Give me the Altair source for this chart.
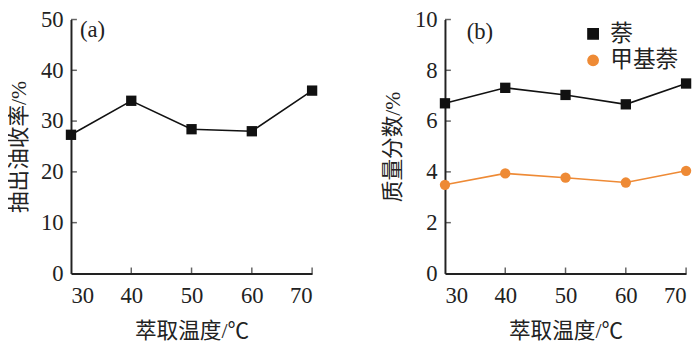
import altair as alt
import pandas as pd

temps = [30, 40, 50, 60, 70]
oil_yield = [27.3, 34.0, 28.4, 28.0, 36.0]
naph = [6.70, 7.31, 7.03, 6.66, 7.48]
methylnaph = [3.49, 3.94, 3.77, 3.58, 4.04]
series_names = ["萘", "甲基萘"]
ticks_a = [10, 20, 30, 40, 50]
ticks_b = [2, 4, 6, 8, 10]
ticks_x = [40, 50, 60, 70]

FONT = "Liberation Serif, Noto Sans CJK SC"
FS = 23
TFS = 22
W, H = 245, 258

df_a = pd.DataFrame({"t": temps, "v": oil_yield})
df_b = pd.DataFrame({
    "t": temps * 2,
    "v": naph + methylnaph,
    "s": [series_names[0]] * 5 + [series_names[1]] * 5,
})

xscale = alt.Scale(domain=[30, 70], nice=False)
xaxis = alt.Axis(values=[30, 40, 50, 60, 70], title="萃取温度/℃", grid=False, ticks=False,
                 labelPadding=12, titlePadding=13, domainWidth=2, domainColor="#222")


def yaxis(title, vals):
    return alt.Axis(values=vals, title=title, grid=False, ticks=False, labelPadding=8,
                    titlePadding=10, domainWidth=2, domainColor="#222")


def inner_ticks(yvals, ydomain):
    ty = alt.Chart(pd.DataFrame({"v": yvals})).mark_tick(
        orient="horizontal", size=6, thickness=1.5, color="#222", xOffset=3
    ).encode(x=alt.datum(30, scale=xscale), y=alt.Y("v:Q", scale=alt.Scale(domain=ydomain)))
    tx = alt.Chart(pd.DataFrame({"t": ticks_x})).mark_tick(
        orient="vertical", size=6, thickness=1.5, color="#222", yOffset=-3
    ).encode(x=alt.X("t:Q", scale=xscale), y=alt.datum(0))
    return ty + tx


# panel a
base_a = alt.Chart(df_a).encode(
    x=alt.X("t:Q", scale=xscale, axis=xaxis),
    y=alt.Y("v:Q", scale=alt.Scale(domain=[0, 50], nice=False),
            axis=yaxis("抽出油收率/%", [0, 10, 20, 30, 40, 50])),
)
line_a = base_a.mark_line(color="#111", strokeWidth=1.6)
pts_a = base_a.mark_point(shape="square", filled=True, size=110, color="#111", opacity=1)
lab_a = alt.Chart(pd.DataFrame({"l": ["(a)"]})).mark_text(
    align="left", baseline="middle", font=FONT, fontSize=FS, color="#222"
).encode(x=alt.datum(31.5), y=alt.datum(48), text="l:N")
panel_a = alt.layer(line_a, pts_a, lab_a, inner_ticks(ticks_a, [0, 50])).properties(width=W, height=H)

# panel b
cscale = alt.Scale(domain=series_names, range=["#111111", "#EE8A35"])
leg = dict(title=None, orient="none", legendX=139, legendY=3, labelFont=FONT, labelFontSize=FS,
           symbolSize=110, rowPadding=3, labelColor="#222", labelOffset=6)
base_b = alt.Chart(df_b).encode(
    x=alt.X("t:Q", scale=xscale, axis=xaxis),
    y=alt.Y("v:Q", scale=alt.Scale(domain=[0, 10], nice=False),
            axis=yaxis("质量分数/%", [0, 2, 4, 6, 8, 10])),
)
shape_enc = alt.Shape("s:N", scale=alt.Scale(domain=series_names, range=["square", "circle"]),
                      sort=series_names, legend=alt.Legend(**leg))
color_enc = alt.Color("s:N", scale=cscale, sort=series_names, legend=alt.Legend(**leg))
line_b = base_b.mark_line(strokeWidth=1.6).encode(color=color_enc, detail="s:N")
pts_b = base_b.mark_point(filled=True, size=110, opacity=1).encode(color=color_enc, shape=shape_enc)
lab_b = alt.Chart(pd.DataFrame({"l": ["(b)"]})).mark_text(
    align="left", baseline="middle", font=FONT, fontSize=FS, color="#222"
).encode(x=alt.datum(33.6), y=alt.datum(9.5), text="l:N")
panel_b = alt.layer(line_b, pts_b, lab_b, inner_ticks(ticks_b, [0, 10])).properties(width=W, height=H)

chart = alt.hconcat(panel_a, panel_b, spacing=65).resolve_scale(
    color="independent", shape="independent"
).resolve_legend(
    color="independent", shape="independent"
).configure_view(stroke=None).configure_axis(
    labelFont=FONT, titleFont=FONT, labelFontSize=FS, titleFontSize=TFS,
    labelColor="#222", titleColor="#222", titleFontWeight="normal",
).properties(
    padding={"top": -2, "left": 0, "right": 0, "bottom": 0},
    background="white",
)

chart.save("out.html", embed_options={"renderer": "svg", "actions": False})
